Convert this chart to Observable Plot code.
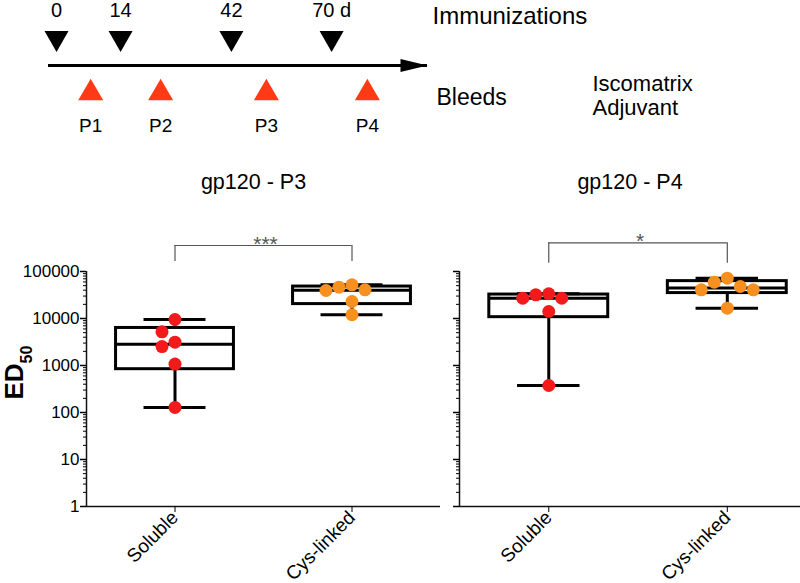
<!DOCTYPE html>
<html><head><meta charset="utf-8">
<script src="https://cdn.jsdelivr.net/npm/d3@7"></script>
<script src="https://cdn.jsdelivr.net/npm/@observablehq/plot@0.6"></script>
<style>
html,body{margin:0;padding:0;background:#fff;overflow:hidden;}
#chart{width:800px;height:583px;position:relative;font-family:"Liberation Sans",Arial,sans-serif;}
#chart svg{display:block;max-width:none !important;}
#panels{display:flex;flex-direction:row;}
</style></head><body>
<div id="chart"><div id="timeline"></div><div id="panels"></div></div>
<script>
// ---------- data ----------
const immunizationLabels = ["0", "14", "42", "70 d"];
const immunizationAt = [0, 16.3, 44.5, 70];        // schematic position on the time arrow (days, as drawn)
const bleedLabels = ["P1", "P2", "P3", "P4"];
const bleedAt = [8.7, 26.5, 53.4, 79.1];
const timelineRows = ["imm", "axis", "bleed"];

const categories = ["Soluble", "Cys-linked"];
const p3Soluble = [9530, 5210, 3130, 2530, 1070, 128];
const p3Cys = [52100, 46400, 40800, 39400, 23000, 12000];
const p4Soluble = [33600, 31900, 27000, 27000, 14100, 375];
const p4Cys = [72000, 59200, 48000, 40800, 40800, 16600];
const yTicks = [1, 10, 100, 1000, 10000, 100000];
const panelTitles = ["gp120 - P3", "gp120 - P4"];
const significance = ["***", "*"];
const bracketTop = [357000, 408000];
const bracketLeg = [163000, 150000];

const FONT = '"Liberation Sans", Arial, sans-serif';
const RED = "#f21a1a", ORANGE = "#f7901e", BLEED = "#ff3a14";

// ---------- symbols ----------
const triDown = {draw(ctx, size) { const r = Math.sqrt(size / Math.PI), h = r * Math.sqrt(3);
  ctx.moveTo(-r, -h / 2); ctx.lineTo(r, -h / 2); ctx.lineTo(0, h / 2); ctx.closePath(); }};
const triUp = {draw(ctx, size) { const r = Math.sqrt(size / Math.PI), h = r * Math.sqrt(3);
  ctx.moveTo(-r, h / 2); ctx.lineTo(r, h / 2); ctx.lineTo(0, -h / 2); ctx.closePath(); }};
const headRight = {draw(ctx, size) { const r = Math.sqrt(size / Math.PI);
  ctx.moveTo(-r, -0.48 * r); ctx.lineTo(r, 0); ctx.lineTo(-r, 0.48 * r); ctx.closePath(); }};

// ---------- timeline ----------
const immIdx = d3.range(immunizationAt.length);
const bleedIdx = d3.range(bleedAt.length);
const timeline = Plot.plot({
  width: 800, height: 140, marginLeft: 48, marginRight: 373, marginTop: 41, marginBottom: 51,
  x: {domain: [-2.04, 94.4], axis: null},
  y: {type: "point", domain: timelineRows, padding: 0, axis: null},
  style: {fontFamily: FONT, color: "black", background: "white", overflow: "visible"},
  marks: [
    Plot.ruleY(["axis"], {stroke: "black", strokeWidth: 3}),
    Plot.dot(["axis"], {y: d => d, frameAnchor: "right", dx: -13.5, symbol: headRight, r: 13.5, fill: "black"}),
    Plot.dot(immIdx, {x: i => immunizationAt[i], y: () => "imm", symbol: triDown, r: 12, fill: "black"}),
    Plot.text(immIdx, {x: i => immunizationAt[i], y: () => "imm", text: i => immunizationLabels[i], dy: -31, fontSize: 20}),
    Plot.dot(bleedIdx, {x: i => bleedAt[i], y: () => "bleed", symbol: triUp, r: 12.5, fill: BLEED}),
    Plot.text(bleedIdx, {x: i => bleedAt[i], y: () => "bleed", text: i => bleedLabels[i], dy: 36, fontSize: 19}),
    Plot.text(["Immunizations"], {y: () => "imm", frameAnchor: "right", textAnchor: "start", dx: 5, dy: -25, fontSize: 24}),
    Plot.text(["Bleeds"], {y: () => "bleed", frameAnchor: "right", textAnchor: "start", dx: 9, dy: 8, fontSize: 23}),
    Plot.text(["Iscomatrix\nAdjuvant"], {y: () => "axis", frameAnchor: "right", textAnchor: "start", dx: 165, dy: 30, fontSize: 22, lineHeight: 1.09})
  ]
});
document.getElementById("timeline").appendChild(timeline);

// ---------- panels ----------
function q6(sorted, p) { // Prism-style quantile (n+1)p
  const h = (sorted.length + 1) * p, lo = Math.floor(h);
  if (lo < 1) return sorted[0];
  if (lo >= sorted.length) return sorted[sorted.length - 1];
  return sorted[lo - 1] + (h - lo) * (sorted[lo] - sorted[lo - 1]);
}
function stats(values, i) {
  const s = values.slice().sort((a, b) => a - b);
  return {i, min: s[0], q1: q6(s, 0.25), median: q6(s, 0.5), q3: q6(s, 0.75), max: s[s.length - 1]};
}
function swarm(values, i, stepPx, pxPerDecade) {
  const D = 13, placed = [];
  for (const v of values.slice().sort((a, b) => b - a)) {
    const y = Math.log10(v) * pxPerDecade;
    for (let k = 0; ; k++) {
      const off = k === 0 ? 0 : (k % 2 ? -1 : 1) * Math.ceil(k / 2) * D;
      if (placed.every(p => (p.off - off) ** 2 + (p.y - y) ** 2 >= D * D - 0.01)) { placed.push({v, off, y}); break; }
    }
  }
  return placed.map(p => ({i, v: p.v, x: i + p.off / stepPx}));
}
const minorTicks = d3.scaleLog().domain([1, 100000]).ticks().filter(t => !yTicks.includes(t));
const blank = () => "";

function panel(k, soluble, cys, opts) {
  const H = 443, mt = 131, mb = 77;
  const pxPerDecade = (H - mt - mb) / 5;
  const stepPx = (opts.width - opts.marginLeft - opts.marginRight) / (opts.xMax + 0.5);
  const boxes = [stats(soluble, 0), stats(cys, 1)];
  const ptsS = swarm(soluble, 0, stepPx, pxPerDecade);
  const ptsC = swarm(cys, 1, stepPx, pxPerDecade);
  const bw = 0.333, cw = 0.175;
  const marks = [
    Plot.ruleX([-0.5], {stroke: "#111", strokeWidth: 1.5}),
    Plot.ruleY([1], {stroke: "#111", strokeWidth: 1.5}),
    Plot.axisY({ticks: minorTicks, tickSize: 3, strokeWidth: 1, anchor: "left", tickFormat: blank, label: null}),
    Plot.axisY({ticks: yTicks, tickSize: 6, strokeWidth: 1.5, anchor: "left", label: null, fontSize: 17, tickPadding: 1,
      tickFormat: opts.labels ? (d => String(d)) : blank}),
    Plot.axisX({ticks: [0, 1], tickFormat: i => categories[i], tickRotate: -45, tickSize: 6, tickPadding: 2, fontSize: 19, anchor: "bottom", label: null}),
    Plot.text([panelTitles[k]], {frameAnchor: "top", dx: opts.titleDx, dy: -89, lineAnchor: "middle", fontSize: 21.5}),
    Plot.ruleY([bracketTop[k]], {y: d => d, x1: 0, x2: 1, stroke: "#555", strokeWidth: 1.2}),
    Plot.ruleX([0, 1], {x: d => d, y1: bracketLeg[k], y2: bracketTop[k], stroke: "#555", strokeWidth: 1.2}),
    Plot.text([significance[k]], {x: 0.5, y: bracketTop[k], dx: 2, dy: 5, fontSize: 21, fill: "#555", lineAnchor: "bottom"}),
    Plot.ruleX(boxes, {x: "i", y1: "min", y2: "q1", stroke: "black", strokeWidth: 3}),
    Plot.ruleX(boxes, {x: "i", y1: "q3", y2: "max", stroke: "black", strokeWidth: 3}),
    Plot.ruleY(boxes, {y: "min", x1: d => d.i - cw, x2: d => d.i + cw, stroke: "black", strokeWidth: 3}),
    Plot.ruleY(boxes, {y: "max", x1: d => d.i - cw, x2: d => d.i + cw, stroke: "black", strokeWidth: 3}),
    Plot.rect(boxes, {x1: d => d.i - bw, x2: d => d.i + bw, y1: "q1", y2: "q3", fill: "none", stroke: "black", strokeWidth: 3}),
    Plot.ruleY(boxes, {y: "median", x1: d => d.i - bw, x2: d => d.i + bw, stroke: "black", strokeWidth: 3}),
    Plot.dot(ptsS, {x: "x", y: "v", r: 6.5, fill: RED}),
    Plot.dot(ptsC, {x: "x", y: "v", r: 6.5, fill: ORANGE})
  ];
  if (opts.labels) {
    marks.push(
      Plot.text(["ED"], {frameAnchor: "left", dx: -64, dy: -7.5, rotate: -90, textAnchor: "middle", lineAnchor: "bottom", fontSize: 26, fontWeight: "bold"}),
      Plot.text(["50"], {frameAnchor: "left", dx: -55, dy: -34.5, rotate: -90, textAnchor: "middle", lineAnchor: "bottom", fontSize: 16, fontWeight: "bold"})
    );
  }
  return Plot.plot({
    width: opts.width, height: H, marginTop: mt, marginBottom: mb,
    marginLeft: opts.marginLeft, marginRight: opts.marginRight,
    x: {type: "linear", domain: [-0.5, opts.xMax], axis: null},
    y: {type: "log", domain: [1, 100000], axis: null},
    style: {fontFamily: FONT, color: "black", background: "white", overflow: "visible"},
    marks
  });
}
const panels = document.getElementById("panels");
panels.appendChild(panel(0, p3Soluble, p3Cys, {width: 450, marginLeft: 86, marginRight: 10, xMax: 1.5, titleDx: -10, labels: true}));
panels.appendChild(panel(1, p4Soluble, p4Cys, {width: 350, marginLeft: 9, marginRight: 0, xMax: 1.41, titleDx: 0, labels: false}));
</script>
</body></html>
